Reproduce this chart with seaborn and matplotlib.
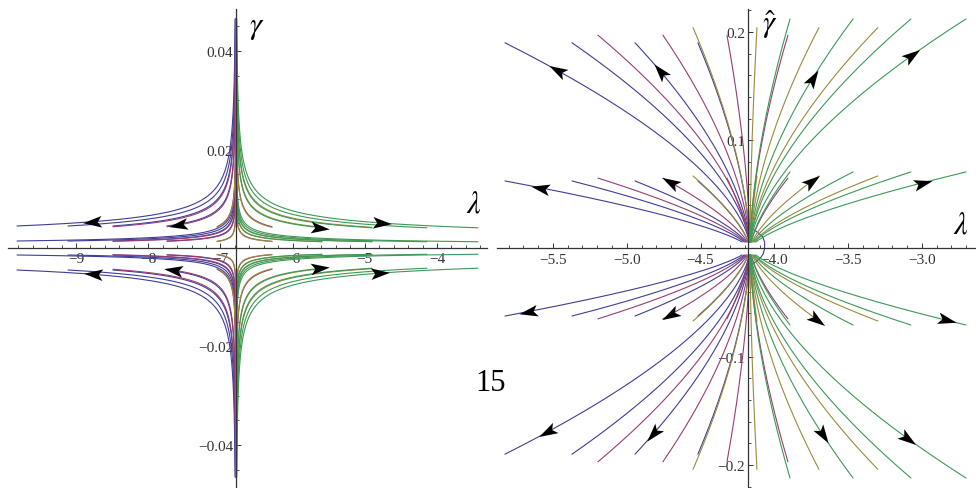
import numpy as np
import pandas as pd
import matplotlib
matplotlib.use("Agg")
import matplotlib.pyplot as plt
import seaborn as sns
from matplotlib.markers import MarkerStyle
from matplotlib.path import Path
from matplotlib.transforms import Affine2D
from matplotlib.ticker import MultipleLocator

# ---------------- data ----------------
series_names = ["blue", "purple", "olive", "green"]
series_colors = ["#3F3D99", "#993D71", "#998B3D", "#3D9956"]

# Left panel (saddle at lambda ~ -6.78)
L_saddle = -6.784
L_end_lambda = [-9.817, -9.111, -8.488, -7.740, -7.047,
                -6.285, -5.593, -4.900, -4.139, -3.432]
L_series_first = [0, 2, 4, 6]          # first end index of each series
L_series_count = [4, 4, 4, 4]
L_gamma_high = [0.00447, 0.00432, 0.00420, 0.00410]
L_gamma_low = [0.00142, 0.00136, 0.00131, 0.00127]
L_exponent = 0.42
L_gamma_clip = 0.0465

# Right panel (node at lambda ~ -4.165)
R_node = -4.165
R_blue_lambda = [-5.825, -5.371, -4.944, -4.518]
R_purple_lambda = [-5.195, -4.755, -4.321, -3.908]
R_olive_lambda = [-4.551, -4.118, -3.698, -3.299]
R_green_lambda = [-3.894, -3.467, -3.075, -2.702]
R_gamma_steep = [0.190, 0.197, 0.204, 0.212]
R_gamma_mid = [0.0624, 0.0650, 0.0670, 0.0707]
R_exp_steep = 0.60
R_exp_mid = 0.68
R_gamma_min = 0.006
R_loop_lambda = [-4.175, -4.146, -4.105, -4.080, -4.066, -4.066, -4.076, -4.095, -4.125, -4.160, -4.185]
R_loop_gamma = [0.024, 0.018, 0.0140, 0.0110, 0.0060, 0.0, -0.0050, -0.0090, -0.0120, -0.0160, -0.0200]

# arrows: (series, end index, level, sign, lambda of arrow centre)
L_arrows = [(0, 0, "high", 1, -8.778), (1, 3, "high", 1, -7.587),
            (3, 6, "high", 1, -5.620), (3, 9, "high", 1, -4.762),
            (0, 0, "high", -1, -8.765), (1, 3, "high", -1, -7.657),
            (3, 6, "high", -1, -5.620), (3, 9, "high", -1, -4.790)]
R_arrows = [(0, 0, "steep", 1, -5.474), (0, 2, "steep", 1, -4.775),
            (3, 1, "steep", 1, -3.738), (3, 3, "steep", 1, -3.068),
            (0, 0, "mid", 1, -5.589), (1, 1, "mid", 1, -4.707),
            (2, 2, "mid", 1, -3.746), (3, 3, "mid", 1, -2.994),
            (0, 0, "mid", -1, -5.670), (1, 1, "mid", -1, -4.707),
            (2, 2, "mid", -1, -3.712), (3, 3, "mid", -1, -2.831),
            (0, 0, "steep", -1, -5.542), (0, 2, "steep", -1, -4.823),
            (3, 1, "steep", -1, -3.671), (3, 3, "steep", -1, -3.096)]

L_xticks = [-9, -8, -7, -6, -5, -4]
L_xlabels = ["\u22129", "\u22128", "\u22127", "\u22126", "\u22125", "\u22124"]
L_yticks = [-0.04, -0.02, 0.02, 0.04]
L_ylabels = ["\u22120.04", "\u22120.02", "0.02", "0.04"]
R_xticks = [-5.5, -5.0, -4.5, -4.0, -3.5, -3.0]
R_xlabels = ["\u22125.5", "\u22125.0", "\u22124.5", "\u22124.0", "\u22123.5", "\u22123.0"]
R_yticks = [-0.2, -0.1, 0.1, 0.2]
R_ylabels = ["\u22120.2", "\u22120.1", "0.1", "0.2"]

R_lambdas = [R_blue_lambda, R_purple_lambda, R_olive_lambda, R_green_lambda]

# ---------------- build trajectories ----------------
rows = []
cid = 0

def left_curve(s_i, idx, level, sign, f):
    d_e = L_end_lambda[idx] - L_saddle
    g_e = L_gamma_high[s_i] if level == "high" else L_gamma_low[s_i]
    return L_saddle + d_e * f, sign * g_e * f ** (-L_exponent)

def right_curve(s_i, idx, level, sign, f):
    d_e = R_lambdas[s_i][idx] - R_node
    if level == "steep":
        g_e, p = R_gamma_steep[s_i], R_exp_steep
    else:
        g_e, p = R_gamma_mid[s_i], R_exp_mid
    return R_node + d_e * f, sign * g_e * np.abs(f) ** p

for s_i, s in enumerate(series_names):
    for idx in range(L_series_first[s_i], L_series_first[s_i] + L_series_count[s_i]):
        for level in ("high", "low"):
            g_e = L_gamma_high[s_i] if level == "high" else L_gamma_low[s_i]
            f = np.geomspace(1.0, (g_e / L_gamma_clip) ** (1 / L_exponent), 400)
            for sign in (1, -1):
                lam, gam = left_curve(s_i, idx, level, sign, f)
                rows.append(pd.DataFrame({"panel": "L", "curve": cid, "series": s,
                                          "lam": lam, "gam": gam, "k": np.arange(len(f))}))
                cid += 1
    for idx in range(4):
        for level in ("steep", "mid"):
            g_e = R_gamma_steep[s_i] if level == "steep" else R_gamma_mid[s_i]
            p = R_exp_steep if level == "steep" else R_exp_mid
            f = np.geomspace(1.0, (R_gamma_min / g_e) ** (1 / p), 300)
            for sign in (1, -1):
                lam, gam = right_curve(s_i, idx, level, sign, f)
                rows.append(pd.DataFrame({"panel": "R", "curve": cid, "series": s,
                                          "lam": lam, "gam": gam, "k": np.arange(len(f))}))
                cid += 1

rows.append(pd.DataFrame({"panel": "R", "curve": cid, "series": "blue",
                          "lam": R_loop_lambda, "gam": R_loop_gamma,
                          "k": np.arange(len(R_loop_lambda))}))
df = pd.concat(rows, ignore_index=True)

# ---------------- figure ----------------
sns.set_theme(style="white")
plt.rcParams["font.family"] = ["Liberation Serif", "DejaVu Serif"]
plt.rcParams["mathtext.fontset"] = "stix"

W, H = 976, 489
fig = plt.figure(figsize=(W / 100, H / 100), dpi=100)
axL = fig.add_axes([8 / W, 1 / H, 479 / W, 478 / H])
axR = fig.add_axes([497 / W, 1 / H, 479 / W, 478 / H])

palette = dict(zip(series_names, series_colors))
for ax, pan in ((axL, "L"), (axR, "R")):
    sns.lineplot(data=df[df.panel == pan], x="lam", y="gam", hue="series",
                 units="curve", estimator=None, sort=False, palette=palette,
                 hue_order=series_names, legend=False, linewidth=0.8, ax=ax)

axL.set_xlim(-9.942, -3.307)
axL.set_ylim(-0.04853, 0.04853)
axR.set_xlim(-5.879, -2.634)
axR.set_ylim(-0.2203, 0.2212)

axis_col = "#333333"
for ax, x0, xt, xl, yt, yl, xmin, ymin in (
        (axL, L_saddle, L_xticks, L_xlabels, L_yticks, L_ylabels, 0.2, 0.005),
        (axR, -4.179, R_xticks, R_xlabels, R_yticks, R_ylabels, 0.1, 0.02)):
    ax.set_xlabel("")
    ax.set_ylabel("")
    ax.spines["top"].set_visible(False)
    ax.spines["right"].set_visible(False)
    ax.spines["left"].set_position(("data", x0))
    ax.spines["bottom"].set_position(("data", 0))
    for sp in ("left", "bottom"):
        ax.spines[sp].set_color(axis_col)
        ax.spines[sp].set_linewidth(0.9)
    ax.set_xticks(xt)
    ax.set_xticklabels(xl)
    ax.set_yticks(yt)
    ax.set_yticklabels(yl)
    ax.xaxis.set_minor_locator(MultipleLocator(xmin))
    ax.yaxis.set_minor_locator(MultipleLocator(ymin))
    ax.tick_params(which="major", direction="in", length=3.6, width=0.7,
                   color=axis_col, labelsize=11, labelcolor="#333333")
    ax.tick_params(which="minor", direction="in", length=2.0, width=0.6, color=axis_col)
    ax.tick_params(axis="x", which="both", bottom=True, pad=3)
    ax.tick_params(axis="y", which="both", left=True, pad=2)
    ax.set_facecolor("white")
    ax.patch.set_alpha(0)

# ---------------- arrowheads ----------------
head = Path([(0.5, 0), (-0.5, 0.31), (-0.28, 0), (-0.5, -0.31), (0.5, 0)],
            [Path.MOVETO, Path.LINETO, Path.LINETO, Path.LINETO, Path.CLOSEPOLY])

def draw_arrows(ax, arrows, curve_fn, ends, centre):
    for s_i, idx, level, sign, lam_c in arrows:
        d_e = ends(s_i, idx) - centre
        f = (lam_c - centre) / d_e
        x1, y1 = curve_fn(s_i, idx, level, sign, np.array(f))
        x2, y2 = curve_fn(s_i, idx, level, sign, np.array(f * 1.01))
        p1 = ax.transData.transform((x1, y1))
        p2 = ax.transData.transform((x2, y2))
        ang = np.arctan2(p2[1] - p1[1], p2[0] - p1[0])
        ms = MarkerStyle(head, transform=Affine2D().rotate(ang))
        ax.plot([x1], [y1], marker=ms, markersize=13.5, color="black",
                markeredgewidth=0, linestyle="none", zorder=6)

draw_arrows(axL, L_arrows, left_curve, lambda s, i: L_end_lambda[i], L_saddle)
draw_arrows(axR, R_arrows, right_curve, lambda s, i: R_lambdas[s][i], R_node)

# ---------------- labels ----------------
axL.text(-6.493, 0.0449, r"$\gamma$", fontsize=22, ha="center", va="center", color="black")
axL.text(-3.488, 0.0089, r"$\lambda$", fontsize=22, ha="center", va="center", color="black")
axR.text(-4.030, 0.2074, r"$\hat{\gamma}$", fontsize=22, ha="center", va="center", color="black")
axR.text(-2.736, 0.0217, r"$\lambda$", fontsize=22, ha="center", va="center", color="black")
fig.text(491 / W, 1 - 384 / H, "15", fontsize=22, ha="center", va="center",
         family="Liberation Serif", color="black")

fig.savefig("out.png", dpi=100)
